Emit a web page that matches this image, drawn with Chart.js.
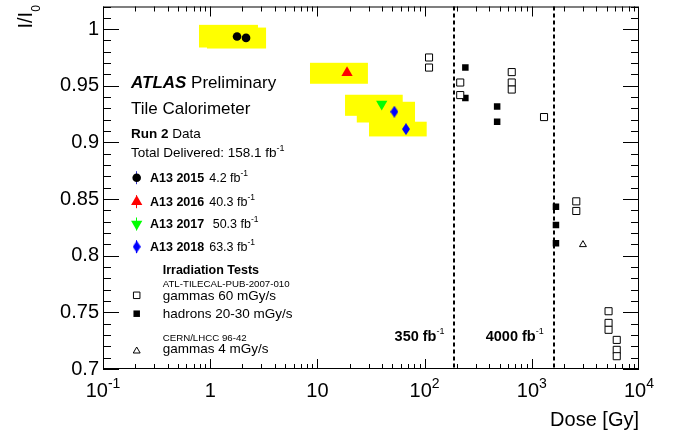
<!DOCTYPE html>
<html>
<head>
<meta charset="utf-8">
<script src="https://cdn.jsdelivr.net/npm/chart.js@4"></script>
<style>
  body { margin: 0; background: #fff; }
  #wrap { width: 678px; height: 434px; }
</style>
</head>
<body>
<div id="wrap"><canvas id="myChart"></canvas></div>
<script>
// A13 points, dose in Gy vs relative response I/I0
const dose2015 = [1.78, 2.16];
const resp2015 = [0.9935, 0.9923];
const dose2016 = [18.9];
const resp2016 = [0.9615];
const dose2017 = [39.8];
const resp2017 = [0.9339];
const dose2018 = [52.2, 67.0];
const resp2018 = [0.9271, 0.9118];

// yellow uncertainty boxes round the A13 points
const bandDoseLo = [0.786, 0.933, 8.53, 18.1, 23.3, 30.3];
const bandDoseHi = [2.79, 3.32, 29.6, 62.5, 81.4, 104.6];
const bandRespLo = [0.9838, 0.9829, 0.9518, 0.9235, 0.9176, 0.9053];
const bandRespHi = [1.0038, 1.0014, 0.9703, 0.9421, 0.9359, 0.9183];

// irradiation tests
const doseGam60 = [110, 110, 215, 215, 650, 650, 650, 1300, 2600, 2600, 5200, 5200, 5200, 6200, 6200, 6200];
const respGam60 = [0.975, 0.9661, 0.9529, 0.9418, 0.9621, 0.9529, 0.9467, 0.9224, 0.848, 0.8395, 0.751, 0.7407, 0.7346, 0.7257, 0.7169, 0.7113];
const doseHad = [240, 240, 475, 475, 1680, 1680, 1680];
const respHad = [0.9661, 0.9392, 0.9317, 0.9183, 0.8433, 0.8272, 0.8109];
const doseGam4 = [3000];
const respGam4 = [0.8098];

// expected dose for 350 and 4000 fb-1
const lumiDose = [190, 1600];
const lumiLabels = ["350", "4000"];

const xTicks = [0.1, 1, 10, 100, 1000, 10000];
const xTickBase = ["10", "1", "10", "10", "10", "10"];
const xTickExp = ["-1", "", "", "2", "3", "4"];

const FONT = "'Liberation Sans', Arial, Helvetica, sans-serif";

function pts(xs, ys) {
    return xs.map((x, i) => ({ x: x, y: ys[i] }));
}

function diamond(w, h, color) {
    let c = document.createElement("canvas");
    c.width = w;
    c.height = h;
    let g = c.getContext("2d");
    g.fillStyle = color;
    g.beginPath();
    g.moveTo(w / 2, 0);
    g.lineTo(w, h / 2);
    g.lineTo(w / 2, h);
    g.lineTo(0, h / 2);
    g.closePath();
    g.fill();
    return c;
}
const blueDiamond = diamond(8, 12, "#0000ff");

// text with bold/sup pieces: [text, font, dy]
function textRun(ctx, x, y, parts) {
    for (const [t, f, dy] of parts) {
        ctx.font = f;
        ctx.fillText(t, x, y + (dy || 0));
        x += ctx.measureText(t).width;
    }
    return x;
}

function marker(ctx, x, y, opts, fill, stroke) {
    ctx.save();
    ctx.fillStyle = fill;
    ctx.strokeStyle = stroke;
    ctx.lineWidth = opts.borderWidth || 0;
    Chart.helpers.drawPoint(ctx, opts, x, y);
    ctx.restore();
}

const atlasPlugin = {
    id: "atlas",
    beforeDatasetsDraw(chart) {
        const { ctx, chartArea: a, scales: { x, y } } = chart;
        ctx.save();
        ctx.fillStyle = "#ffff00";
        bandDoseLo.forEach((lo, i) => {
            let x0 = x.getPixelForValue(lo), x1 = x.getPixelForValue(bandDoseHi[i]);
            let y0 = y.getPixelForValue(bandRespHi[i]), y1 = y.getPixelForValue(bandRespLo[i]);
            ctx.fillRect(x0, y0, x1 - x0, y1 - y0);
        });
        ctx.strokeStyle = "#000";
        ctx.lineWidth = 2;
        ctx.setLineDash([4, 3]);
        lumiDose.forEach(d => {
            let px = Math.round(x.getPixelForValue(d));
            ctx.beginPath();
            ctx.moveTo(px, a.top);
            ctx.lineTo(px, a.bottom);
            ctx.stroke();
        });
        ctx.restore();
    },
    afterDraw(chart) {
        const { ctx, chartArea: a, scales: { x, y } } = chart;
        ctx.save();
        ctx.strokeStyle = "#000";
        ctx.fillStyle = "#000";
        ctx.lineWidth = 1;
        ctx.setLineDash([]);
        ctx.strokeRect(a.left + 0.5, a.top + 0.5, a.right - a.left - 1, a.bottom - a.top - 1);

        // y ticks, inward on both sides
        ctx.beginPath();
        for (let k = 0; k <= 32; k++) {
            let v = 0.7 + k * 0.01;
            let len = k % 5 === 0 ? 16 : 8;
            let py = Math.round(y.getPixelForValue(v)) + 0.5;
            ctx.moveTo(a.left, py); ctx.lineTo(a.left + len, py);
            ctx.moveTo(a.right, py); ctx.lineTo(a.right - len, py);
        }
        // x ticks, log decades
        for (let e = -1; e <= 3; e++) {
            for (let m = 1; m <= 9; m++) {
                let v = m * Math.pow(10, e);
                let len = m === 1 ? 10 : 5;
                let px = Math.round(x.getPixelForValue(v)) + 0.5;
                ctx.moveTo(px, a.bottom); ctx.lineTo(px, a.bottom - len);
                ctx.moveTo(px, a.top); ctx.lineTo(px, a.top + len);
            }
        }
        ctx.stroke();

        // x tick labels with exponents
        ctx.textAlign = "left";
        ctx.textBaseline = "alphabetic";
        xTicks.forEach((v, i) => {
            ctx.font = "20px " + FONT;
            let wb = ctx.measureText(xTickBase[i]).width;
            ctx.font = "14px " + FONT;
            let we = ctx.measureText(xTickExp[i]).width;
            let px = x.getPixelForValue(v) - (wb + we) / 2;
            textRun(ctx, px, 397, [[xTickBase[i], "20px " + FONT, 0], [xTickExp[i], "14px " + FONT, -9]]);
        });

        // axis titles
        ctx.font = "20px " + FONT;
        ctx.textAlign = "right";
        ctx.fillText("Dose [Gy]", a.right, 426);
        ctx.textAlign = "left";
        ctx.save();
        ctx.translate(31.5, 28.5);
        ctx.rotate(-Math.PI / 2);
        textRun(ctx, 0, 0, [["I/I", "20px " + FONT, 0], ["0", "12px " + FONT, 8]]);
        ctx.restore();

        // lumi labels next to the dashed lines
        lumiDose.forEach((d, i) => {
            let px = x.getPixelForValue(d);
            ctx.font = "bold 14.5px " + FONT;
            let w = ctx.measureText(lumiLabels[i] + " fb").width;
            ctx.font = "9px " + FONT;
            w += ctx.measureText("-1").width;
            textRun(ctx, px - 10 - w, 340.5, [[lumiLabels[i] + " fb", "bold 14.5px " + FONT, 0], ["-1", "9px " + FONT, -7]]);
        });

        // ATLAS label block
        let lx = 131;
        textRun(ctx, lx, 88.3, [["ATLAS", "italic bold 17px " + FONT, 0], [" Preliminary", "17px " + FONT, 0]]);
        textRun(ctx, lx, 114.3, [["Tile Calorimeter", "17px " + FONT, 0]]);
        textRun(ctx, lx, 137.5, [["Run 2", "bold 13.5px " + FONT, 0], [" Data", "13.5px " + FONT, 0]]);
        textRun(ctx, lx, 157, [["Total Delivered: 158.1 fb", "13.5px " + FONT, 0], ["-1", "9px " + FONT, -6]]);

        // legend
        const rows = [
            { y: 177.7, label: "A13 2015", lumi: "4.2 fb", opts: { pointStyle: "circle", radius: 4.3, borderWidth: 0 }, col: "#000", bar: "#3030c0" },
            { y: 201.7, label: "A13 2016", lumi: "40.3 fb", opts: { pointStyle: "triangle", radius: 6.5, borderWidth: 0 }, col: "#ff0000", bar: "#ff0000" },
            { y: 224, label: "A13 2017", lumi: " 50.3 fb", opts: { pointStyle: "triangle", rotation: 180, radius: 6.5, borderWidth: 0 }, col: "#00ff00", bar: "#00ff00" },
            { y: 246.7, label: "A13 2018", lumi: "63.3 fb", opts: { pointStyle: blueDiamond, radius: 5, borderWidth: 0 }, col: "#0000ff", bar: "#0000ff" }
        ];
        rows.forEach(r => {
            ctx.strokeStyle = r.bar;
            ctx.lineWidth = 1;
            ctx.beginPath();
            ctx.moveTo(136.5, r.y - 6.5); ctx.lineTo(136.5, r.y + 6.5);
            ctx.stroke();
            marker(ctx, 136.7, r.y, r.opts, r.col, r.col);
            ctx.fillStyle = "#000";
            let ex = textRun(ctx, 150, r.y + 4, [[r.label, "bold 12.5px " + FONT, 0]]);
            textRun(ctx, ex + 5, r.y + 4, [[r.lumi, "12.5px " + FONT, 0], ["-1", "8.5px " + FONT, -6]]);
        });

        ctx.fillStyle = "#000";
        textRun(ctx, 162.7, 274, [["Irradiation Tests", "bold 12.5px " + FONT, 0]]);
        textRun(ctx, 162.7, 286.5, [["ATL-TILECAL-PUB-2007-010", "9.7px " + FONT, 0]]);
        textRun(ctx, 162.7, 300, [["gammas 60 mGy/s", "13.5px " + FONT, 0]]);
        textRun(ctx, 162.7, 318, [["hadrons 20-30 mGy/s", "13.5px " + FONT, 0]]);
        textRun(ctx, 162.7, 341, [["CERN/LHCC 96-42", "9.7px " + FONT, 0]]);
        textRun(ctx, 162.7, 353, [["gammas 4 mGy/s", "13.5px " + FONT, 0]]);
        marker(ctx, 136.7, 295.3, { pointStyle: "rect", radius: 4.6, borderWidth: 1 }, "#fff", "#000");
        marker(ctx, 136.7, 313.7, { pointStyle: "rect", radius: 4.6, borderWidth: 0 }, "#000", "#000");
        marker(ctx, 136.7, 351, { pointStyle: "triangle", radius: 4, borderWidth: 1 }, "#fff", "#000");

        ctx.restore();
    }
};

Chart.defaults.font.family = FONT;
Chart.defaults.color = "#000";

let myChart = document.getElementById("myChart").getContext("2d");
let doseChart = new Chart(myChart, {
    type: "scatter",
    data: {
        datasets: [
            { label: "gammas 60 mGy/s", data: pts(doseGam60, respGam60), pointStyle: "rect", pointRadius: 5, backgroundColor: "#fff", borderColor: "#000", borderWidth: 1 },
            { label: "hadrons 20-30 mGy/s", data: pts(doseHad, respHad), pointStyle: "rect", pointRadius: 4.6, backgroundColor: "#000", borderColor: "#000", borderWidth: 0 },
            { label: "gammas 4 mGy/s", data: pts(doseGam4, respGam4), pointStyle: "triangle", pointRadius: 4, backgroundColor: "#fff", borderColor: "#000", borderWidth: 1 },
            { label: "A13 2015", data: pts(dose2015, resp2015), pointStyle: "circle", pointRadius: 4.3, backgroundColor: "#000", borderWidth: 0 },
            { label: "A13 2016", data: pts(dose2016, resp2016), pointStyle: "triangle", pointRadius: 6.5, backgroundColor: "#ff0000", borderWidth: 0 },
            { label: "A13 2017", data: pts(dose2017, resp2017), pointStyle: "triangle", rotation: 180, pointRadius: 6.5, backgroundColor: "#00ff00", borderWidth: 0 },
            { label: "A13 2018", data: pts(dose2018, resp2018), pointStyle: blueDiamond, pointRadius: 5, backgroundColor: "#0000ff", borderWidth: 0 }
        ]
    },
    options: {
        responsive: true,
        maintainAspectRatio: false,
        animation: false,
        layout: { padding: { left: 0, right: 39, top: 6, bottom: 0 } },
        plugins: {
            legend: { display: false },
            tooltip: { enabled: false },
            title: { display: false }
        },
        scales: {
            x: {
                type: "logarithmic",
                min: 0.1,
                max: 10000,
                grid: { display: false },
                border: { display: false },
                ticks: { display: false },
                afterFit: function(scale) {
                    scale.height = 65;
                    scale.paddingLeft = 0;
                    scale.paddingRight = 0;
                }
            },
            y: {
                type: "linear",
                min: 0.7,
                max: 1.02,
                grid: { display: false, drawTicks: false },
                border: { display: false },
                ticks: {
                    stepSize: 0.05,
                    includeBounds: false,
                    padding: 4,
                    font: { size: 20 },
                    color: "#000",
                    callback: function(value) {
                        return String(parseFloat(value.toFixed(2)));
                    }
                },
                afterFit: function(scale) {
                    scale.width = 103;
                    scale.paddingTop = 0;
                    scale.paddingBottom = 0;
                }
            }
        }
    },
    plugins: [atlasPlugin]
});
</script>
</body>
</html>
